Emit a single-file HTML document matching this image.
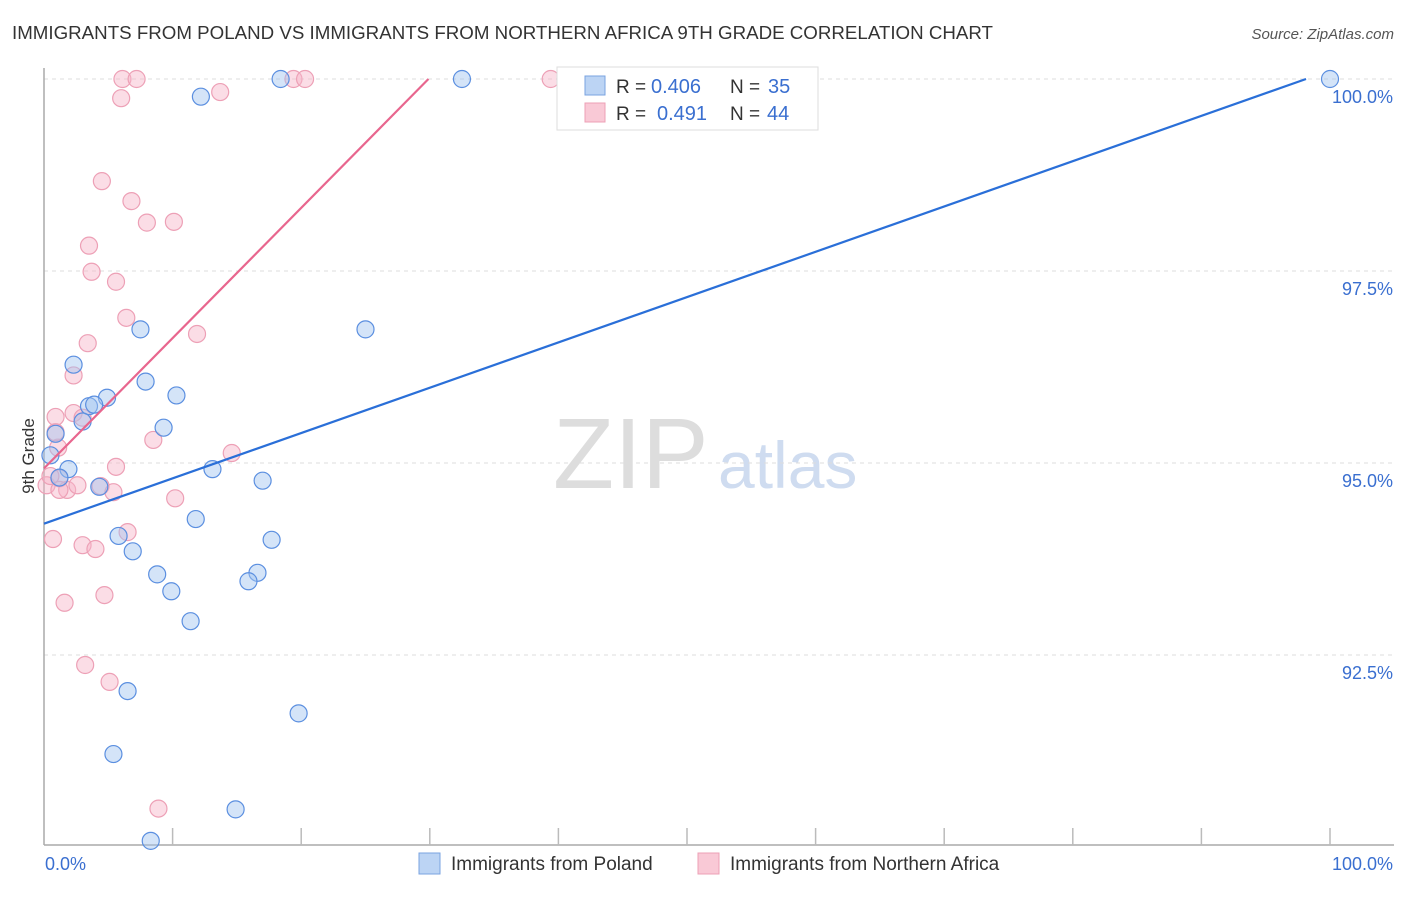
<!DOCTYPE html>
<html><head><meta charset="utf-8"><style>
body{margin:0;background:#fff;font-family:"Liberation Sans",sans-serif;}
svg text{font-family:"Liberation Sans",sans-serif;}
</style></head><body>
<svg id="chart" width="1406" height="892">
<text x="12" y="39" font-size="18" fill="#333" textLength="981" lengthAdjust="spacingAndGlyphs">IMMIGRANTS FROM POLAND VS IMMIGRANTS FROM NORTHERN AFRICA 9TH GRADE CORRELATION CHART</text>
<text x="1394" y="39" font-size="15" fill="#555" font-style="italic" text-anchor="end">Source: ZipAtlas.com</text>
<text x="553" y="488" font-size="100" fill="#ddd" font-family="Liberation Serif">ZIP</text>
<text x="718" y="488" font-size="66" fill="#cfdcf0">atlas</text>
<g id="grid"></g>
<g id="axes"></g>
<g id="marks"></g>
<text transform="translate(34,456) rotate(-90)" font-size="17" fill="#333" text-anchor="middle">9th Grade</text>
<text x="45" y="870" font-size="18" fill="#3a6fd0">0.0%</text>
<text x="1393" y="870" font-size="18" fill="#3a6fd0" text-anchor="end">100.0%</text>
<g>
<rect x="557" y="67" width="261" height="63" fill="#fff" stroke="#ddd"/>
<rect x="585" y="76" width="20" height="19" fill="#bcd4f4" stroke="#7aa3e0"/>
<rect x="585" y="103" width="20" height="19" fill="#f9c9d6" stroke="#eda0b6"/>
<text x="616" y="93" font-size="19" fill="#333">R =</text>
<text x="651" y="93" font-size="20" fill="#3a6fd0">0.406</text>
<text x="730" y="93" font-size="19" fill="#333">N =</text>
<text x="768" y="93" font-size="20" fill="#3a6fd0">35</text>
<text x="616" y="120" font-size="19" fill="#333">R =</text>
<text x="657" y="120" font-size="20" fill="#3a6fd0">0.491</text>
<text x="730" y="120" font-size="19" fill="#333">N =</text>
<text x="767" y="120" font-size="20" fill="#3a6fd0">44</text>
</g>
<g>
<rect x="419" y="853" width="21" height="21" fill="#bcd4f4" stroke="#7aa3e0"/>
<text x="451" y="870" font-size="19" fill="#333">Immigrants from Poland</text>
<rect x="698" y="853" width="21" height="21" fill="#f9c9d6" stroke="#eda0b6"/>
<text x="730" y="870" font-size="19" fill="#333">Immigrants from Northern Africa</text>
</g>
</svg>
<script>
const yTicks=[100,97.5,95,92.5];
const yTickLabels=["100.0%","97.5%","95.0%","92.5%"];
const xTicks=[10,20,30,40,50,60,70,80,90,100];
const polandX=[100,32.5,18.4,12.2,7.5,25.0,2.3,7.9,10.3,4.9,3.5,3.9,3.0,9.3,0.9,1.9,13.1,17.0,1.2,4.3,11.8,5.8,17.7,6.9,8.8,16.6,15.9,9.9,11.4,6.5,19.8,5.4,14.9,8.3,0.5];
const polandY=[100,100,100,99.77,96.74,96.74,96.28,96.06,95.88,95.85,95.74,95.76,95.54,95.46,95.38,94.92,94.92,94.77,94.81,94.69,94.27,94.05,94.0,93.85,93.55,93.57,93.46,93.33,92.94,92.03,91.74,91.21,90.49,90.08,95.1];
const africaX=[6.1,7.2,19.4,20.3,39.4,6.0,13.7,4.5,6.8,8.0,10.1,3.5,3.7,5.6,6.4,11.9,3.4,2.3,0.9,2.3,3.0,1.1,14.6,5.6,8.5,0.2,1.2,1.8,2.6,4.4,5.4,10.2,6.5,0.7,3.0,4.0,4.7,1.6,3.2,5.1,8.9,0.5,0.9,1.2];
const africaY=[100,100,100,100,100,99.75,99.83,98.67,98.41,98.13,98.14,97.83,97.49,97.36,96.89,96.68,96.56,96.14,95.6,95.65,95.59,95.2,95.13,94.95,95.3,94.71,94.8,94.65,94.71,94.7,94.62,94.54,94.1,94.01,93.93,93.88,93.28,93.18,92.37,92.15,90.5,94.83,95.4,94.65];
const polandTrend=[94.21,0.059];
const africaTrend=[94.93,0.1696];
const NS="http://www.w3.org/2000/svg";
const X0=44,X1=1330,Y100=79,PXU=76.8;
function sx(v){return X0+(X1-X0)*v/100;}
function sy(v){return Y100+(100-v)*PXU;}
function mk(t,a,p){const e=document.createElementNS(NS,t);for(const k in a)e.setAttribute(k,a[k]);document.getElementById(p).appendChild(e);return e;}
yTicks.forEach((t,i)=>{
 const l=mk('line',{x1:44,x2:1394,y1:sy(t),y2:sy(t),stroke:'#ddd','stroke-dasharray':'4,4'},'grid');
 
 
 const tx=mk('text',{x:1393,y:sy(t)+24,'font-size':18,fill:'#3a6fd0','text-anchor':'end'},'grid');
 tx.textContent=yTickLabels[i];
 
 
});
const ax=mk('line',{x1:44,x2:44,y1:68,y2:845,stroke:'#aaa','stroke-width':1.5},'axes');


const bx=mk('line',{x1:44,x2:1394,y1:845,y2:845,stroke:'#aaa','stroke-width':1.5},'axes');


xTicks.forEach(t=>{
 const l=mk('line',{x1:sx(t),x2:sx(t),y1:828,y2:845,stroke:'#bbb','stroke-width':1.5},'axes');
 
 
});
function dots(xs,ys,fill,stroke,name){
 xs.forEach((x,i)=>{
  const c=mk('circle',{cx:sx(x),cy:sy(ys[i]),r:8.5,fill:fill,stroke:stroke,'stroke-width':1.2},'marks');
  
  
 });
}
dots(africaX,africaY,'rgba(246,180,200,0.45)','#eda0b6','point-northern-africa');
dots(polandX,polandY,'rgba(160,195,240,0.45)','#5b8fe0','point-poland');
function trend(tr,color,name){
 const xEnd=Math.min(100,(100-tr[0])/tr[1]);
 const l=mk('line',{x1:sx(0),y1:sy(tr[0]),x2:sx(xEnd),y2:sy(tr[0]+tr[1]*xEnd),stroke:color,'stroke-width':2.2},'marks');
 
 
}
trend(polandTrend,'#2a6fd8','trend-line-poland');
trend(africaTrend,'#e8668e','trend-line-northern-africa');
</script>
</body></html>
